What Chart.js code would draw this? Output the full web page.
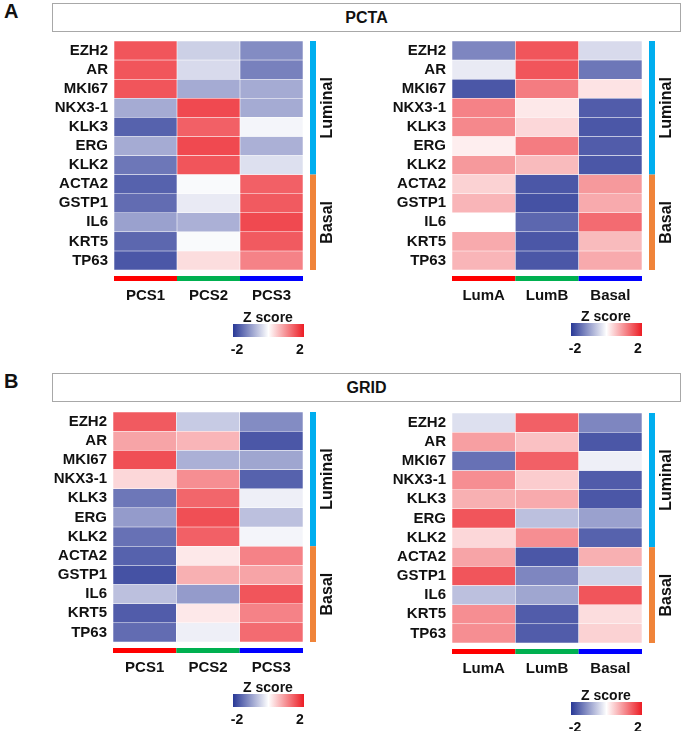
<!DOCTYPE html>
<html>
<head>
<meta charset="utf-8">
<script src="https://cdn.jsdelivr.net/npm/chart.js@4.4.0/dist/chart.umd.min.js"></script>
<style>
  body { margin: 0; background: #fff; width: 685px; height: 731px; position: relative; overflow: hidden;
         font-family: "Liberation Sans", Arial, sans-serif; color: #111; }
  canvas { position: absolute; }
  .panel { position: absolute; font-weight: bold; font-size: 20px; }
  .titlebox { position: absolute; left: 52px; width: 627px; height: 27px; border: 1.5px solid #a8a8a8;
              text-align: center; line-height: 27px; font-weight: bold; font-size: 16px; }
  .zlab { position: absolute; font-weight: bold; font-size: 14px; transform: translate(-50%, -50%); white-space: nowrap; }
  .zbar { position: absolute; height: 13px; width: 71px;
          background: linear-gradient(to right, rgb(40,56,150), #fff, rgb(236,28,36)); }
</style>
</head>
<body>
<div class="panel" style="left:4px;top:0px">A</div>
<div class="titlebox" style="top:3px">PCTA</div>
<div class="panel" style="left:4px;top:370px">B</div>
<div class="titlebox" style="top:373px">GRID</div>

<canvas id="pctaPcs" width="345" height="285" style="left:0px;top:30px"></canvas>
<canvas id="pctaPam" width="340" height="285" style="left:345px;top:30px"></canvas>
<canvas id="gridPcs" width="345" height="290" style="left:0px;top:400px"></canvas>
<canvas id="gridPam" width="340" height="290" style="left:345px;top:400px"></canvas>

<script>
// === DATA ===
const genes = ["EZH2", "AR", "MKI67", "NKX3-1", "KLK3", "ERG", "KLK2", "ACTA2", "GSTP1", "IL6", "KRT5", "TP63"];
const pcsCols = ["PCS1", "PCS2", "PCS3"];
const pamCols = ["LumA", "LumB", "Basal"];
const zTicks = ["-2", "2"];

// z scores, one row per gene, one value per column
const pctaPcs = [
  [1.5, -0.45, -1.1],
  [1.5, -0.35, -1.2],
  [1.5, -0.8, -0.8],
  [-0.8, 1.6, -0.8],
  [-1.5, 1.4, -0.1],
  [-0.8, 1.6, -0.75],
  [-1.3, 1.5, -0.3],
  [-1.5, -0.05, 1.4],
  [-1.4, -0.2, 1.45],
  [-0.9, -0.75, 1.6],
  [-1.45, -0.05, 1.45],
  [-1.6, 0.3, 1.1]
];
const pctaPam = [
  [-1.15, 1.5, -0.35],
  [-0.2, 1.5, -1.3],
  [-1.6, 1.15, 0.25],
  [1.1, 0.2, -1.55],
  [1.05, 0.35, -1.6],
  [0.15, 1.15, -1.55],
  [0.9, 0.6, -1.6],
  [0.4, -1.6, 0.9],
  [0.65, -1.65, 0.75],
  [0.0, -1.45, 1.3],
  [0.75, -1.6, 0.6],
  [0.65, -1.6, 0.75]
];
const gridPcs = [
  [1.45, -0.5, -1.1],
  [0.8, 0.65, -1.6],
  [1.55, -0.75, -0.85],
  [0.35, 1.0, -1.5],
  [-1.3, 1.35, -0.15],
  [-0.95, 1.55, -0.6],
  [-1.35, 1.4, -0.1],
  [-1.5, 0.2, 1.1],
  [-1.65, 0.7, 0.8],
  [-0.6, -0.95, 1.5],
  [-1.55, 0.2, 1.1],
  [-1.4, -0.15, 1.3]
];
const gridPam = [
  [-0.3, 1.4, -1.15],
  [0.85, 0.55, -1.6],
  [-1.35, 1.4, -0.15],
  [1.0, 0.45, -1.55],
  [0.7, 0.75, -1.6],
  [1.5, -0.6, -0.9],
  [0.35, 1.0, -1.5],
  [0.8, -1.6, 0.7],
  [1.5, -1.15, -0.4],
  [-0.6, -0.85, 1.5],
  [1.0, -1.55, 0.3],
  [1.0, -1.55, 0.4]
];

// row groups: Luminal = first 7 genes, Basal = last 5
const groups = [
  { name: "Luminal", from: 0, to: 7, color: "#00aeef" },
  { name: "Basal", from: 7, to: 12, color: "#f0843a" }
];
const colBarColors = ["#ff0000", "#00b050", "#0000ff"];

const FONT = '"Liberation Sans", Arial, sans-serif';
const BLUE = [30, 45, 145], RED = [236, 28, 36];

function zColor(z) {
  const t = Math.min(Math.abs(z) / 2, 1);
  const c = z < 0 ? BLUE : RED;
  const m = c.map(v => Math.round(255 + (v - 255) * t));
  return `rgb(${m[0]},${m[1]},${m[2]})`;
}

// side group bar + colored column bar
const annotations = {
  id: "annotations",
  afterDraw(chart) {
    const { ctx, chartArea: a, scales: { x, y } } = chart;
    ctx.save();
    groups.forEach(g => {
      const top = y.getPixelForValue(g.from), bot = y.getPixelForValue(g.to);
      ctx.fillStyle = g.color;
      ctx.fillRect(a.right + 7, top, 6, bot - top);
      ctx.save();
      ctx.translate(a.right + 25, (top + bot) / 2);
      ctx.rotate(-Math.PI / 2);
      ctx.fillStyle = "#111";
      ctx.font = "bold 16px " + FONT;
      ctx.textAlign = "center";
      ctx.textBaseline = "middle";
      ctx.fillText(g.name, 0, 0);
      ctx.restore();
    });
    const n = x.ticks.length, w = (a.right - a.left) / n;
    x.ticks.forEach((t, i) => {
      ctx.fillStyle = colBarColors[i];
      ctx.fillRect(a.left + i * w, a.bottom + 6, w, 5);
    });
    ctx.restore();
  }
};

function heatmap(id, cols, values, box, area) {
  const datasets = genes.map((g, r) => ({
    label: g,
    data: cols.map(() => [r, r + 1]),
    backgroundColor: values[r].map(zColor),
    borderColor: "rgba(255,255,255,0.35)",
    borderWidth: 0.6,
    borderSkipped: false,
    grouped: false,
    barPercentage: 1,
    categoryPercentage: 1
  }));
  new Chart(document.getElementById(id), {
    type: "bar",
    data: { labels: cols, datasets },
    options: {
      responsive: false,
      animation: false,
      layout: { padding: { top: area.t - box.y, right: box.x + box.w - area.r, left: 0, bottom: 0 } },
      plugins: { legend: { display: false }, tooltip: { enabled: false } },
      scales: {
        x: {
          grid: { display: false, drawTicks: false },
          border: { display: false },
          ticks: { color: "#111", font: { family: FONT, size: 15, weight: "bold" }, padding: 17 },
          afterFit: s => { s.height = box.y + box.h - area.b; s.paddingLeft = 0; s.paddingRight = 0; }
        },
        y: {
          min: 0, max: genes.length, reverse: true,
          grid: { display: false, drawTicks: false },
          border: { display: false },
          afterBuildTicks: s => { s.ticks = genes.map((g, i) => ({ value: i + 0.5 })); },
          ticks: {
            autoSkip: false, padding: 6, color: "#111",
            font: { family: FONT, size: 15, weight: "bold" },
            callback: v => genes[Math.floor(v)]
          },
          afterFit: s => { s.width = area.l - box.x; s.paddingTop = 0; s.paddingBottom = 0; }
        }
      }
    },
    plugins: [annotations]
  });
}

heatmap("pctaPcs", pcsCols, pctaPcs, { x: 0, y: 30, w: 345, h: 285 }, { l: 114, t: 41, r: 303, b: 270 });
heatmap("pctaPam", pamCols, pctaPam, { x: 345, y: 30, w: 340, h: 285 }, { l: 452, t: 41, r: 642, b: 270 });
heatmap("gridPcs", pcsCols, gridPcs, { x: 0, y: 400, w: 345, h: 290 }, { l: 113, t: 412, r: 303, b: 642 });
heatmap("gridPam", pamCols, gridPam, { x: 345, y: 400, w: 340, h: 290 }, { l: 452, t: 413, r: 642, b: 643 });

// Z score legends
function zLegend(left, top) {
  const bar = document.createElement("div");
  bar.className = "zbar";
  bar.style.left = left + "px";
  bar.style.top = top + "px";
  document.body.appendChild(bar);
  const items = [["Z score", left + 35, top - 7], [zTicks[0], left + 4, top + 25], [zTicks[1], left + 67, top + 25]];
  items.forEach(([txt, cx, cy]) => {
    const d = document.createElement("div");
    d.className = "zlab";
    d.textContent = txt;
    d.style.left = cx + "px";
    d.style.top = cy + "px";
    document.body.appendChild(d);
  });
}
zLegend(233, 324);
zLegend(571, 323);
zLegend(233, 694);
zLegend(571, 702);
</script>
</body>
</html>
